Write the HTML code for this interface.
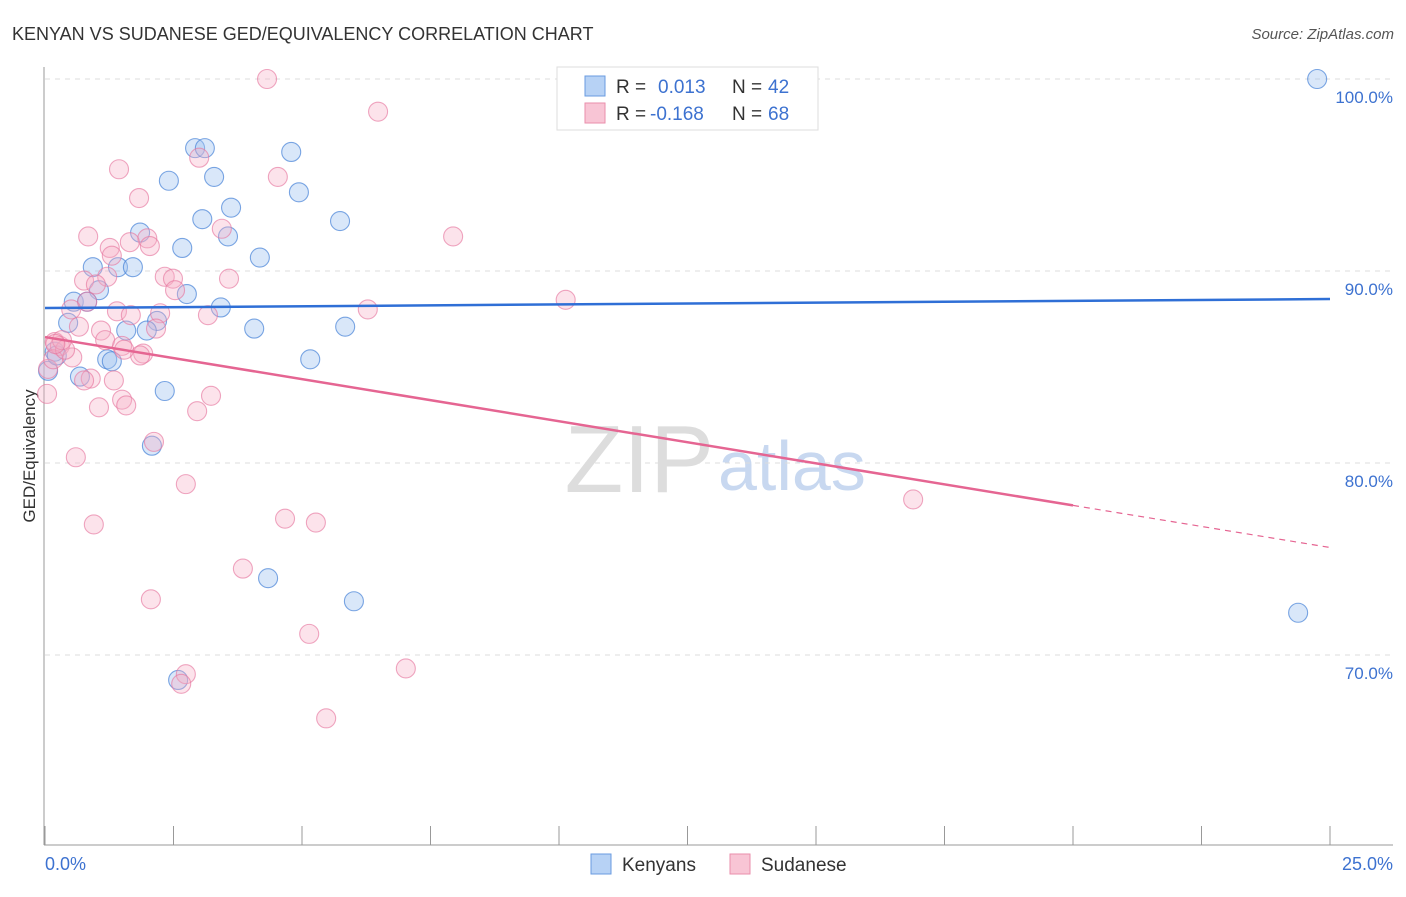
<!DOCTYPE html>
<html><head><meta charset="utf-8"><style>
body{margin:0;background:#fff;font-family:"Liberation Sans",sans-serif}
svg text{font-family:"Liberation Sans",sans-serif}
</style></head><body>
<svg id="c" width="1406" height="892">
<text x="12" y="40" font-size="18" fill="#333">KENYAN VS SUDANESE GED/EQUIVALENCY CORRELATION CHART</text>
<text x="1394" y="39" font-size="15" fill="#555" text-anchor="end" font-style="italic">Source: ZipAtlas.com</text>
<text x="35" y="456" font-size="17" fill="#333" text-anchor="middle" transform="rotate(-90 35 456)">GED/Equivalency</text>
<text x="714" y="492" font-size="96" fill="#ddd" text-anchor="end" font-family="Liberation Serif">ZIP</text>
<text x="718" y="490" font-size="70" fill="#c8d8f0">atlas</text>
<g id="grid"></g><g id="pts"></g><g id="lines"></g>
<g>
<rect x="557" y="67" width="261" height="63" fill="#fff" stroke="#ddd"/>
<rect x="585" y="76" width="20" height="20" fill="#b7d2f5" stroke="#6a9be0"/>
<rect x="585" y="103" width="20" height="20" fill="#f8c5d5" stroke="#ea8eab"/>
<text x="616" y="93" font-size="19" fill="#333">R =</text><text x="658" y="93" font-size="19" fill="#3d72d0">0.013</text>
<text x="732" y="93" font-size="19" fill="#333">N =</text><text x="768" y="93" font-size="19" fill="#3d72d0">42</text>
<text x="616" y="120" font-size="19" fill="#333">R =</text><text x="650" y="120" font-size="19" fill="#3d72d0">-0.168</text>
<text x="732" y="120" font-size="19" fill="#333">N =</text><text x="768" y="120" font-size="19" fill="#3d72d0">68</text>
</g>
<g>
<rect x="591" y="854" width="20" height="20" fill="#b7d2f5" stroke="#6a9be0"/>
<text x="622" y="871" font-size="19" fill="#333">Kenyans</text>
<rect x="730" y="854" width="20" height="20" fill="#f8c5d5" stroke="#ea8eab"/>
<text x="761" y="871" font-size="19" fill="#333">Sudanese</text>
</g>
</svg>
<script>
const kenX=[10.35,24.75,2.92,3.11,4.79,2.41,3.29,4.94,3.62,3.06,5.74,1.85,3.56,2.67,4.18,0.93,1.42,1.71,1.05,2.76,0.56,0.82,3.42,0.45,2.18,5.84,1.58,1.98,4.07,0.19,1.21,1.30,5.16,0.68,2.33,0.06,2.08,4.34,6.01,24.38,2.59,0.23];
const kenY=[100,100,96.4,96.4,96.2,94.7,94.9,94.1,93.3,92.7,92.6,92.0,91.8,91.2,90.7,90.2,90.2,90.2,89.0,88.8,88.4,88.4,88.1,87.3,87.4,87.1,86.9,86.9,87.0,85.8,85.4,85.3,85.4,84.5,83.75,84.8,80.9,74.0,72.8,72.2,68.7,85.6];
const sudX=[4.32,6.48,3.0,1.44,4.53,1.83,7.94,3.44,0.84,1.99,1.65,2.04,1.26,1.30,2.33,2.49,3.58,1.21,0.76,0.99,2.53,10.13,0.82,0.51,6.28,1.40,2.24,1.67,3.17,0.66,1.09,2.16,1.17,0.19,0.29,1.50,1.91,1.85,0.53,0.06,0.89,1.34,0.04,3.23,1.50,1.58,1.05,2.96,2.12,0.60,2.74,16.89,4.67,5.27,0.95,3.85,2.06,5.14,7.02,2.74,2.65,5.47,0.16,0.39,0.33,0.76,1.54,0.2];
const sudY=[100,98.3,95.9,95.3,94.9,93.8,91.8,92.2,91.8,91.7,91.5,91.3,91.2,90.8,89.7,89.6,89.6,89.7,89.5,89.3,89.0,88.5,88.4,88.0,88.0,87.9,87.8,87.7,87.7,87.1,86.9,87.0,86.4,86.3,86.1,86.1,85.7,85.6,85.5,84.9,84.4,84.3,83.6,83.5,83.3,83.0,82.9,82.7,81.1,80.3,78.9,78.1,77.1,76.9,76.8,74.5,72.9,71.1,69.3,69.0,68.5,66.7,85.4,85.9,86.4,84.3,85.9,86.2];
const yTicks=[100,90,80,70];
const yTickLabels=["100.0%","90.0%","80.0%","70.0%"];
const kenTrend=[88.07,88.54];
const sudTrend=[86.56,75.6];
const NS="http://www.w3.org/2000/svg";
const X=v=>45+v/25*1285, Y=v=>79+(100-v)*19.2;
function mk(p,t,a){const e=document.createElementNS(NS,t);for(const k in a)e.setAttribute(k,a[k]);p.appendChild(e);return e;}
const grid=document.getElementById('grid');
yTicks.forEach((t,i)=>{
 const l=mk(grid,'line',{x1:45,x2:1393,y1:Y(t),y2:Y(t),stroke:'#ddd','stroke-dasharray':'5,5'});
 
 
 const tx=mk(grid,'text',{x:1393,y:Y(t)+24,'font-size':17,fill:'#3d72d0','text-anchor':'end'});tx.textContent=yTickLabels[i];
 
 
});
const ax=mk(grid,'line',{x1:44,x2:44,y1:67,y2:845,stroke:'#999'});


const bx=mk(grid,'line',{x1:44,x2:1393,y1:845,y2:845,stroke:'#999'});


for(let i=0;i<=10;i++){const t=mk(grid,'line',{x1:X(i*2.5),x2:X(i*2.5),y1:826,y2:845,stroke:'#999'});
 
 }
const x0=mk(grid,'text',{x:45,y:870,'font-size':18,fill:'#3d72d0'});x0.textContent='0.0%';


const x1=mk(grid,'text',{x:1393,y:870,'font-size':18,fill:'#3d72d0','text-anchor':'end'});x1.textContent='25.0%';


const pts=document.getElementById('pts');
kenX.forEach((v,i)=>{const c=mk(pts,'circle',{cx:X(v),cy:Y(kenY[i]),r:9.5,fill:'rgba(160,195,240,0.4)',stroke:'rgba(70,130,215,0.7)','stroke-width':1.1});
 
 });
sudX.forEach((v,i)=>{const c=mk(pts,'circle',{cx:X(v),cy:Y(sudY[i]),r:9.5,fill:'rgba(245,175,198,0.35)',stroke:'rgba(230,120,160,0.65)','stroke-width':1.1});
 
 });
const lines=document.getElementById('lines');
const kl=mk(lines,'line',{x1:X(0),y1:Y(kenTrend[0]),x2:X(25),y2:Y(kenTrend[1]),stroke:'#2f6fd6','stroke-width':2.5});


const sy=v=>sudTrend[0]+(sudTrend[1]-sudTrend[0])*v/25;
const sl=mk(lines,'line',{x1:X(0),y1:Y(sy(0)),x2:X(20),y2:Y(sy(20)),stroke:'#e56592','stroke-width':2.5});


const sd=mk(lines,'line',{x1:X(20),y1:Y(sy(20)),x2:X(25),y2:Y(sy(25)),stroke:'#e56592','stroke-width':1.2,'stroke-dasharray':'6,5'});


</script>
</body></html>
